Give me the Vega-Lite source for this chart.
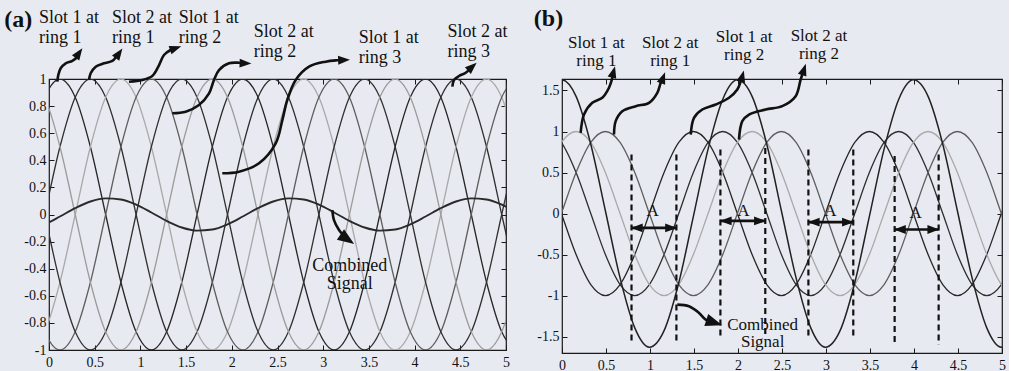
{
"$schema": "https://vega.github.io/schema/vega-lite/v6.json",
"background": "#e8eaf1",
"padding": {"left": 3, "top": 6, "right": 2, "bottom": 0},
"bounds": "flush",
"spacing": 56,
"config": {
  "view": {"stroke": "#1a1a1a", "strokeWidth": 1.2},
  "font": "Liberation Serif",
  "axis": {"labelFont": "Liberation Serif", "labelFontSize": 14, "labelColor": "#111111", "tickColor": "#1a1a1a", "tickSize": -5, "domain": false, "grid": false, "labelFlush": false, "labelOverlap": false},
  "axisLeft": {"labelPadding": 8},
  "axisBottom": {"labelPadding": 10}
},
"datasets": {
  "pa": [
    {"x":-0.213,"a1":0.5,"a2":-0.5,"a3":-1,"a4":-0.5,"a5":0.5,"a6":1,"ac":-0.111},
    {"x":-0.047,"a1":0.866,"a2":0,"a3":-0.866,"a4":-0.866,"a5":0,"a6":0.866,"ac":-0.073},
    {"x":0.12,"a1":1,"a2":0.5,"a3":-0.5,"a4":-1,"a5":-0.5,"a6":0.5,"ac":-0.015},
    {"x":0.287,"a1":0.866,"a2":0.866,"a3":0,"a4":-0.866,"a5":-0.866,"a6":0,"ac":0.047},
    {"x":0.453,"a1":0.5,"a2":1,"a3":0.5,"a4":-0.5,"a5":-1,"a6":-0.5,"ac":0.096},
    {"x":0.62,"a1":0,"a2":0.866,"a3":0.866,"a4":0,"a5":-0.866,"a6":-0.866,"ac":0.119},
    {"x":0.787,"a1":-0.5,"a2":0.5,"a3":1,"a4":0.5,"a5":-0.5,"a6":-1,"ac":0.111},
    {"x":0.953,"a1":-0.866,"a2":0,"a3":0.866,"a4":0.866,"a5":0,"a6":-0.866,"ac":0.073},
    {"x":1.12,"a1":-1,"a2":-0.5,"a3":0.5,"a4":1,"a5":0.5,"a6":-0.5,"ac":0.015},
    {"x":1.287,"a1":-0.866,"a2":-0.866,"a3":0,"a4":0.866,"a5":0.866,"a6":0,"ac":-0.047},
    {"x":1.453,"a1":-0.5,"a2":-1,"a3":-0.5,"a4":0.5,"a5":1,"a6":0.5,"ac":-0.096},
    {"x":1.62,"a1":0,"a2":-0.866,"a3":-0.866,"a4":0,"a5":0.866,"a6":0.866,"ac":-0.119},
    {"x":1.787,"a1":0.5,"a2":-0.5,"a3":-1,"a4":-0.5,"a5":0.5,"a6":1,"ac":-0.111},
    {"x":1.953,"a1":0.866,"a2":0,"a3":-0.866,"a4":-0.866,"a5":0,"a6":0.866,"ac":-0.073},
    {"x":2.12,"a1":1,"a2":0.5,"a3":-0.5,"a4":-1,"a5":-0.5,"a6":0.5,"ac":-0.015},
    {"x":2.287,"a1":0.866,"a2":0.866,"a3":0,"a4":-0.866,"a5":-0.866,"a6":0,"ac":0.047},
    {"x":2.453,"a1":0.5,"a2":1,"a3":0.5,"a4":-0.5,"a5":-1,"a6":-0.5,"ac":0.096},
    {"x":2.62,"a1":0,"a2":0.866,"a3":0.866,"a4":0,"a5":-0.866,"a6":-0.866,"ac":0.119},
    {"x":2.787,"a1":-0.5,"a2":0.5,"a3":1,"a4":0.5,"a5":-0.5,"a6":-1,"ac":0.111},
    {"x":2.953,"a1":-0.866,"a2":0,"a3":0.866,"a4":0.866,"a5":0,"a6":-0.866,"ac":0.073},
    {"x":3.12,"a1":-1,"a2":-0.5,"a3":0.5,"a4":1,"a5":0.5,"a6":-0.5,"ac":0.015},
    {"x":3.287,"a1":-0.866,"a2":-0.866,"a3":0,"a4":0.866,"a5":0.866,"a6":0,"ac":-0.047},
    {"x":3.453,"a1":-0.5,"a2":-1,"a3":-0.5,"a4":0.5,"a5":1,"a6":0.5,"ac":-0.096},
    {"x":3.62,"a1":0,"a2":-0.866,"a3":-0.866,"a4":0,"a5":0.866,"a6":0.866,"ac":-0.119},
    {"x":3.787,"a1":0.5,"a2":-0.5,"a3":-1,"a4":-0.5,"a5":0.5,"a6":1,"ac":-0.111},
    {"x":3.953,"a1":0.866,"a2":0,"a3":-0.866,"a4":-0.866,"a5":0,"a6":0.866,"ac":-0.073},
    {"x":4.12,"a1":1,"a2":0.5,"a3":-0.5,"a4":-1,"a5":-0.5,"a6":0.5,"ac":-0.015},
    {"x":4.287,"a1":0.866,"a2":0.866,"a3":0,"a4":-0.866,"a5":-0.866,"a6":0,"ac":0.047},
    {"x":4.453,"a1":0.5,"a2":1,"a3":0.5,"a4":-0.5,"a5":-1,"a6":-0.5,"ac":0.096},
    {"x":4.62,"a1":0,"a2":0.866,"a3":0.866,"a4":0,"a5":-0.866,"a6":-0.866,"ac":0.119},
    {"x":4.787,"a1":-0.5,"a2":0.5,"a3":1,"a4":0.5,"a5":-0.5,"a6":-1,"ac":0.111},
    {"x":4.953,"a1":-0.866,"a2":0,"a3":0.866,"a4":0.866,"a5":0,"a6":-0.866,"ac":0.073},
    {"x":5.12,"a1":-1,"a2":-0.5,"a3":0.5,"a4":1,"a5":0.5,"a6":-0.5,"ac":0.015}
  ],
  "pb": [
    {"x":-0.173,"b1":0.5,"b2":1,"b3":0.5,"b4":-0.5,"bc":1.394},
    {"x":-0.007,"b1":0,"b2":0.866,"b3":0.866,"b4":0,"bc":1.63},
    {"x":0.16,"b1":-0.5,"b2":0.5,"b3":1,"b4":0.5,"bc":1.428},
    {"x":0.327,"b1":-0.866,"b2":0,"b3":0.866,"b4":0.866,"bc":0.844},
    {"x":0.493,"b1":-1,"b2":-0.5,"b3":0.5,"b4":1,"bc":0.034},
    {"x":0.66,"b1":-0.866,"b2":-0.866,"b3":0,"b4":0.866,"bc":-0.785},
    {"x":0.827,"b1":-0.5,"b2":-1,"b3":-0.5,"b4":0.5,"bc":-1.394},
    {"x":0.993,"b1":0,"b2":-0.866,"b3":-0.866,"b4":0,"bc":-1.63},
    {"x":1.16,"b1":0.5,"b2":-0.5,"b3":-1,"b4":-0.5,"bc":-1.428},
    {"x":1.327,"b1":0.866,"b2":0,"b3":-0.866,"b4":-0.866,"bc":-0.844},
    {"x":1.493,"b1":1,"b2":0.5,"b3":-0.5,"b4":-1,"bc":-0.034},
    {"x":1.66,"b1":0.866,"b2":0.866,"b3":0,"b4":-0.866,"bc":0.785},
    {"x":1.827,"b1":0.5,"b2":1,"b3":0.5,"b4":-0.5,"bc":1.394},
    {"x":1.993,"b1":0,"b2":0.866,"b3":0.866,"b4":0,"bc":1.63},
    {"x":2.16,"b1":-0.5,"b2":0.5,"b3":1,"b4":0.5,"bc":1.428},
    {"x":2.327,"b1":-0.866,"b2":0,"b3":0.866,"b4":0.866,"bc":0.844},
    {"x":2.493,"b1":-1,"b2":-0.5,"b3":0.5,"b4":1,"bc":0.034},
    {"x":2.66,"b1":-0.866,"b2":-0.866,"b3":0,"b4":0.866,"bc":-0.785},
    {"x":2.827,"b1":-0.5,"b2":-1,"b3":-0.5,"b4":0.5,"bc":-1.394},
    {"x":2.993,"b1":0,"b2":-0.866,"b3":-0.866,"b4":0,"bc":-1.63},
    {"x":3.16,"b1":0.5,"b2":-0.5,"b3":-1,"b4":-0.5,"bc":-1.428},
    {"x":3.327,"b1":0.866,"b2":0,"b3":-0.866,"b4":-0.866,"bc":-0.844},
    {"x":3.493,"b1":1,"b2":0.5,"b3":-0.5,"b4":-1,"bc":-0.034},
    {"x":3.66,"b1":0.866,"b2":0.866,"b3":0,"b4":-0.866,"bc":0.785},
    {"x":3.827,"b1":0.5,"b2":1,"b3":0.5,"b4":-0.5,"bc":1.394},
    {"x":3.993,"b1":0,"b2":0.866,"b3":0.866,"b4":0,"bc":1.63},
    {"x":4.16,"b1":-0.5,"b2":0.5,"b3":1,"b4":0.5,"bc":1.428},
    {"x":4.327,"b1":-0.866,"b2":0,"b3":0.866,"b4":0.866,"bc":0.844},
    {"x":4.493,"b1":-1,"b2":-0.5,"b3":0.5,"b4":1,"bc":0.034},
    {"x":4.66,"b1":-0.866,"b2":-0.866,"b3":0,"b4":0.866,"bc":-0.785},
    {"x":4.827,"b1":-0.5,"b2":-1,"b3":-0.5,"b4":0.5,"bc":-1.394},
    {"x":4.993,"b1":0,"b2":-0.866,"b3":-0.866,"b4":0,"bc":-1.63},
    {"x":5.16,"b1":0.5,"b2":-0.5,"b3":-1,"b4":-0.5,"bc":-1.428}
  ],
  "arrA": [
    {"g":"1","i":0,"x":0.091,"y":0.98},{"g":"1","i":1,"x":0.102,"y":1.03},{"g":"1","i":2,"x":0.128,"y":1.079},{"g":"1","i":3,"x":0.183,"y":1.116},{"g":"1","i":4,"x":0.255,"y":1.133},{"g":"1","i":5,"x":0.31,"y":1.165},{"g":"1","i":6,"x":0.328,"y":1.192},
    {"g":"2","i":0,"x":0.438,"y":0.993},{"g":"2","i":1,"x":0.456,"y":1.042},{"g":"2","i":2,"x":0.511,"y":1.091},{"g":"2","i":3,"x":0.602,"y":1.116},{"g":"2","i":4,"x":0.693,"y":1.133},{"g":"2","i":5,"x":0.736,"y":1.165},{"g":"2","i":6,"x":0.766,"y":1.19},
    {"g":"3","i":0,"x":0.875,"y":0.98},{"g":"3","i":1,"x":1.021,"y":0.993},{"g":"3","i":2,"x":1.13,"y":1.022},{"g":"3","i":3,"x":1.196,"y":1.091},{"g":"3","i":4,"x":1.258,"y":1.177},{"g":"3","i":5,"x":1.331,"y":1.214},{"g":"3","i":6,"x":1.386,"y":1.227},
    {"g":"4","i":0,"x":1.349,"y":0.747},{"g":"4","i":1,"x":1.496,"y":0.759},{"g":"4","i":2,"x":1.641,"y":0.808},{"g":"4","i":3,"x":1.751,"y":0.894},{"g":"4","i":4,"x":1.805,"y":0.993},{"g":"4","i":5,"x":1.86,"y":1.066},{"g":"4","i":6,"x":1.969,"y":1.116},{"g":"4","i":7,"x":2.08,"y":1.12},{"g":"4","i":8,"x":2.15,"y":1.116},
    {"g":"5","i":0,"x":1.896,"y":0.304},{"g":"5","i":1,"x":2.079,"y":0.316},{"g":"5","i":2,"x":2.298,"y":0.378},{"g":"5","i":3,"x":2.48,"y":0.525},{"g":"5","i":4,"x":2.553,"y":0.697},{"g":"5","i":5,"x":2.607,"y":0.845},{"g":"5","i":6,"x":2.699,"y":0.993},{"g":"5","i":7,"x":2.845,"y":1.091},{"g":"5","i":8,"x":3.027,"y":1.128},{"g":"5","i":9,"x":3.15,"y":1.138},{"g":"5","i":10,"x":3.228,"y":1.14},
    {"g":"6","i":0,"x":4.413,"y":0.943},{"g":"6","i":1,"x":4.431,"y":0.993},{"g":"6","i":2,"x":4.486,"y":1.022},{"g":"6","i":3,"x":4.559,"y":1.046},{"g":"6","i":4,"x":4.631,"y":1.091},
    {"g":"7","i":0,"x":3.1,"y":0.033},{"g":"7","i":1,"x":3.118,"y":-0.041},{"g":"7","i":2,"x":3.173,"y":-0.114},{"g":"7","i":3,"x":3.23,"y":-0.16},{"g":"7","i":4,"x":3.264,"y":-0.183}
  ],
  "headA": [
    {"x":0.328,"y":1.192,"ang":35},{"x":0.766,"y":1.19,"ang":35},{"x":1.386,"y":1.227,"ang":71},{"x":2.15,"y":1.116,"ang":92},{"x":3.228,"y":1.14,"ang":88},{"x":4.631,"y":1.091,"ang":48}
  ],
  "arrB": [
    {"g":"1","i":0,"x":0.212,"y":0.984},{"g":"1","i":1,"x":0.25,"y":1.207},{"g":"1","i":2,"x":0.344,"y":1.35},{"g":"1","i":3,"x":0.458,"y":1.411},{"g":"1","i":4,"x":0.534,"y":1.533},{"g":"1","i":5,"x":0.572,"y":1.655},{"g":"1","i":6,"x":0.585,"y":1.726},
    {"g":"2","i":0,"x":0.591,"y":0.963},{"g":"2","i":1,"x":0.61,"y":1.126},{"g":"2","i":2,"x":0.685,"y":1.248},{"g":"2","i":3,"x":0.838,"y":1.309},{"g":"2","i":4,"x":0.989,"y":1.35},{"g":"2","i":5,"x":1.083,"y":1.472},{"g":"2","i":6,"x":1.122,"y":1.594},{"g":"2","i":7,"x":1.148,"y":1.655},
    {"g":"3","i":0,"x":1.463,"y":0.963},{"g":"3","i":1,"x":1.5,"y":1.167},{"g":"3","i":2,"x":1.594,"y":1.268},{"g":"3","i":3,"x":1.747,"y":1.329},{"g":"3","i":4,"x":1.898,"y":1.411},{"g":"3","i":5,"x":1.992,"y":1.512},{"g":"3","i":6,"x":2.031,"y":1.613},{"g":"3","i":7,"x":2.049,"y":1.674},
    {"g":"4","i":0,"x":2.011,"y":0.902},{"g":"4","i":1,"x":2.049,"y":1.126},{"g":"4","i":2,"x":2.125,"y":1.207},{"g":"4","i":3,"x":2.315,"y":1.268},{"g":"4","i":4,"x":2.503,"y":1.309},{"g":"4","i":5,"x":2.655,"y":1.43},{"g":"4","i":6,"x":2.712,"y":1.634},{"g":"4","i":7,"x":2.75,"y":1.756},
    {"g":"5","i":0,"x":1.31,"y":-1.11},{"g":"5","i":1,"x":1.443,"y":-1.13},{"g":"5","i":2,"x":1.557,"y":-1.211},{"g":"5","i":3,"x":1.633,"y":-1.293},{"g":"5","i":4,"x":1.73,"y":-1.33}
  ],
  "headB": [
    {"x":0.585,"y":1.726,"ang":15},{"x":1.148,"y":1.655,"ang":20},{"x":2.049,"y":1.674,"ang":15},{"x":2.75,"y":1.756,"ang":18},
    {"x":0.85,"y":-0.175,"ang":270},{"x":1.24,"y":-0.175,"ang":90},
    {"x":1.86,"y":-0.09,"ang":270},{"x":2.25,"y":-0.09,"ang":90},
    {"x":2.86,"y":-0.105,"ang":270},{"x":3.25,"y":-0.105,"ang":90},
    {"x":3.84,"y":-0.195,"ang":270},{"x":4.22,"y":-0.195,"ang":90}
  ]
},
"hconcat": [
  {
    "width": 457, "height": 271,
    "resolve": {"axis": {"x": "independent", "y": "independent"}},
    "layer": [
      {
        "data": {"name": "pa"},
        "transform": [{"fold": ["a1","a2","a3","a4","a5","a6"], "as": ["k","v"]}],
        "mark": {"type": "line", "interpolate": "monotone", "clip": true, "strokeWidth": 1.3},
        "encoding": {
          "x": {"field": "x", "type": "quantitative", "scale": {"domain": [0,5], "nice": false, "zero": false}, "axis": {"orient": "bottom", "values": [0,0.5,1,1.5,2,2.5,3,3.5,4,4.5,5], "title": null, "labelExpr": "replace(format(datum.value, '~g'), '−', '-')"}},
          "y": {"field": "v", "type": "quantitative", "scale": {"domain": [-1,1], "nice": false, "zero": false}, "axis": {"orient": "left", "values": [-1,-0.8,-0.6,-0.4,-0.2,0,0.2,0.4,0.6,0.8,1], "title": null, "labelExpr": "replace(format(datum.value, '~g'), '−', '-')"}},
          "color": {"field": "k", "type": "nominal", "scale": {"domain": ["a1","a2","a3","a4","a5","a6"], "range": ["#262626","#2e2e2e","#a9a9a9","#5e5e5e","#303030","#9b9b9b"]}, "legend": null}
        }
      },
      {
        "data": {"name": "pa"},
        "mark": {"type": "line", "interpolate": "monotone", "clip": true, "strokeWidth": 1.9, "color": "#2a2a2a"},
        "encoding": {
          "x": {"field": "x", "type": "quantitative", "scale": {"domain": [0,5], "nice": false, "zero": false}, "axis": {"orient": "top", "values": [0,0.5,1,1.5,2,2.5,3,3.5,4,4.5,5], "title": null, "labels": false}},
          "y": {"field": "ac", "type": "quantitative", "scale": {"domain": [-1,1], "nice": false, "zero": false}, "axis": {"orient": "right", "values": [-1,-0.8,-0.6,-0.4,-0.2,0,0.2,0.4,0.6,0.8,1], "title": null, "labels": false}}
        }
      },
      {
        "data": {"name": "arrA"},
        "mark": {"type": "line", "interpolate": "catmull-rom", "strokeWidth": 2.6, "color": "#111111"},
        "encoding": {
          "x": {"field": "x", "type": "quantitative", "scale": {"domain": [0,5], "nice": false, "zero": false}, "axis": null},
          "y": {"field": "y", "type": "quantitative", "scale": {"domain": [-1,1], "nice": false, "zero": false}, "axis": null},
          "detail": {"field": "g", "type": "nominal"},
          "order": {"field": "i", "type": "quantitative"}
        }
      },
      {
        "data": {"name": "headA"},
        "mark": {"type": "point", "filled": true, "shape": "M0,-1L0.75,1L-0.75,1Z", "size": 140, "color": "#111111", "opacity": 1},
        "encoding": {
          "x": {"field": "x", "type": "quantitative", "scale": {"domain": [0,5], "nice": false, "zero": false}, "axis": null},
          "y": {"field": "y", "type": "quantitative", "scale": {"domain": [-1,1], "nice": false, "zero": false}, "axis": null},
          "angle": {"field": "ang", "type": "quantitative", "scale": null}
        }
      },
      {
        "data": {"values": [{"x": 3.264, "y": -0.183, "ang": 125}]},
        "mark": {"type": "point", "filled": true, "shape": "M0,-1L0.75,1L-0.75,1Z", "size": 280, "color": "#111111", "opacity": 1},
        "encoding": {
          "x": {"field": "x", "type": "quantitative", "scale": {"domain": [0,5], "nice": false, "zero": false}, "axis": null},
          "y": {"field": "y", "type": "quantitative", "scale": {"domain": [-1,1], "nice": false, "zero": false}, "axis": null},
          "angle": {"field": "ang", "type": "quantitative", "scale": null}
        }
      },
      {
        "data": {"values": [
          {"t": "Slot 1 at\nring 1", "x": -0.11, "y": 1.413},
          {"t": "Slot 2 at\nring 1", "x": 0.69, "y": 1.413},
          {"t": "Slot 1 at\nring 2", "x": 1.42, "y": 1.413},
          {"t": "Slot 2 at\nring 2", "x": 2.24, "y": 1.312},
          {"t": "Slot 1 at\nring 3", "x": 3.39, "y": 1.268},
          {"t": "Slot 2 at\nring 3", "x": 4.36, "y": 1.312}
        ]},
        "mark": {"type": "text", "font": "Liberation Serif", "fontSize": 18, "align": "left", "baseline": "alphabetic", "lineBreak": "\n", "lineHeight": 20, "color": "#111111"},
        "encoding": {
          "x": {"field": "x", "type": "quantitative", "scale": {"domain": [0,5], "nice": false, "zero": false}, "axis": null},
          "y": {"field": "y", "type": "quantitative", "scale": {"domain": [-1,1], "nice": false, "zero": false}, "axis": null},
          "text": {"field": "t"}
        }
      },
      {
        "data": {"values": [{"t": "Combined\nSignal", "x": 3.29, "y": -0.42}]},
        "mark": {"type": "text", "font": "Liberation Serif", "fontSize": 18, "align": "center", "baseline": "alphabetic", "lineBreak": "\n", "lineHeight": 18, "color": "#111111"},
        "encoding": {
          "x": {"field": "x", "type": "quantitative", "scale": {"domain": [0,5], "nice": false, "zero": false}, "axis": null},
          "y": {"field": "y", "type": "quantitative", "scale": {"domain": [-1,1], "nice": false, "zero": false}, "axis": null},
          "text": {"field": "t"}
        }
      },
      {
        "data": {"values": [{"t": "(a)", "x": -0.49, "y": 1.386}]},
        "mark": {"type": "text", "font": "Liberation Serif", "fontSize": 24, "fontWeight": "bold", "align": "left", "baseline": "alphabetic", "color": "#111111"},
        "encoding": {
          "x": {"field": "x", "type": "quantitative", "scale": {"domain": [0,5], "nice": false, "zero": false}, "axis": null},
          "y": {"field": "y", "type": "quantitative", "scale": {"domain": [-1,1], "nice": false, "zero": false}, "axis": null},
          "text": {"field": "t"}
        }
      }
    ]
  },
  {
    "width": 440, "height": 274,
    "resolve": {"axis": {"x": "independent", "y": "independent"}},
    "layer": [
      {
        "data": {"name": "pb"},
        "transform": [{"fold": ["b1","b2","b3","b4"], "as": ["k","v"]}],
        "mark": {"type": "line", "interpolate": "monotone", "clip": true, "strokeWidth": 1.3},
        "encoding": {
          "x": {"field": "x", "type": "quantitative", "scale": {"domain": [0,5], "nice": false, "zero": false}, "axis": {"orient": "bottom", "values": [0,0.5,1,1.5,2,2.5,3,3.5,4,4.5,5], "title": null, "labelExpr": "replace(format(datum.value, '~g'), '−', '-')"}},
          "y": {"field": "v", "type": "quantitative", "scale": {"domain": [-1.7,1.64], "nice": false, "zero": false}, "axis": {"orient": "left", "values": [-1.5,-1,-0.5,0,0.5,1,1.5], "title": null, "labelExpr": "replace(format(datum.value, '~g'), '−', '-')"}},
          "color": {"field": "k", "type": "nominal", "scale": {"domain": ["b1","b2","b3","b4"], "range": ["#5c5c5c","#a3a3a3","#3d3d3d","#2e2e2e"]}, "legend": null}
        }
      },
      {
        "data": {"name": "pb"},
        "mark": {"type": "line", "interpolate": "monotone", "clip": true, "strokeWidth": 1.5, "color": "#222222"},
        "encoding": {
          "x": {"field": "x", "type": "quantitative", "scale": {"domain": [0,5], "nice": false, "zero": false}, "axis": {"orient": "top", "values": [0,0.5,1,1.5,2,2.5,3,3.5,4,4.5,5], "title": null, "labels": false}},
          "y": {"field": "bc", "type": "quantitative", "scale": {"domain": [-1.7,1.64], "nice": false, "zero": false}, "axis": {"orient": "right", "values": [-1.5,-1,-0.5,0,0.5,1,1.5], "title": null, "labels": false}}
        }
      },
      {
        "data": {"values": [
          {"x": 0.79, "y": 0.72, "y2": -1.57},
          {"x": 1.30, "y": 0.72, "y2": -1.57},
          {"x": 1.80, "y": 0.78, "y2": -1.5},
          {"x": 2.31, "y": 0.8, "y2": -1.5},
          {"x": 2.80, "y": 0.78, "y2": -1.5},
          {"x": 3.31, "y": 0.78, "y2": -1.5},
          {"x": 3.78, "y": 0.7, "y2": -1.6},
          {"x": 4.28, "y": 0.72, "y2": -1.6}
        ]},
        "mark": {"type": "rule", "strokeDash": [6,4], "strokeWidth": 2.2, "color": "#111111"},
        "encoding": {
          "x": {"field": "x", "type": "quantitative", "scale": {"domain": [0,5], "nice": false, "zero": false}, "axis": null},
          "y": {"field": "y", "type": "quantitative", "scale": {"domain": [-1.7,1.64], "nice": false, "zero": false}, "axis": null},
          "y2": {"field": "y2"}
        }
      },
      {
        "data": {"values": [
          {"x": 0.79, "x2": 1.30, "y": -0.175},
          {"x": 1.80, "x2": 2.31, "y": -0.09},
          {"x": 2.80, "x2": 3.31, "y": -0.105},
          {"x": 3.78, "x2": 4.28, "y": -0.195}
        ]},
        "mark": {"type": "rule", "strokeWidth": 2.6, "color": "#111111"},
        "encoding": {
          "x": {"field": "x", "type": "quantitative", "scale": {"domain": [0,5], "nice": false, "zero": false}, "axis": null},
          "x2": {"field": "x2"},
          "y": {"field": "y", "type": "quantitative", "scale": {"domain": [-1.7,1.64], "nice": false, "zero": false}, "axis": null}
        }
      },
      {
        "data": {"name": "arrB"},
        "mark": {"type": "line", "interpolate": "catmull-rom", "strokeWidth": 2.6, "color": "#111111"},
        "encoding": {
          "x": {"field": "x", "type": "quantitative", "scale": {"domain": [0,5], "nice": false, "zero": false}, "axis": null},
          "y": {"field": "y", "type": "quantitative", "scale": {"domain": [-1.7,1.64], "nice": false, "zero": false}, "axis": null},
          "detail": {"field": "g", "type": "nominal"},
          "order": {"field": "i", "type": "quantitative"}
        }
      },
      {
        "data": {"name": "headB"},
        "mark": {"type": "point", "filled": true, "shape": "M0,-1L0.75,1L-0.75,1Z", "size": 140, "color": "#111111", "opacity": 1},
        "encoding": {
          "x": {"field": "x", "type": "quantitative", "scale": {"domain": [0,5], "nice": false, "zero": false}, "axis": null},
          "y": {"field": "y", "type": "quantitative", "scale": {"domain": [-1.7,1.64], "nice": false, "zero": false}, "axis": null},
          "angle": {"field": "ang", "type": "quantitative", "scale": null}
        }
      },
      {
        "data": {"values": [{"x": 1.73, "y": -1.33, "ang": 108}]},
        "mark": {"type": "point", "filled": true, "shape": "M0,-1L0.75,1L-0.75,1Z", "size": 280, "color": "#111111", "opacity": 1},
        "encoding": {
          "x": {"field": "x", "type": "quantitative", "scale": {"domain": [0,5], "nice": false, "zero": false}, "axis": null},
          "y": {"field": "y", "type": "quantitative", "scale": {"domain": [-1.7,1.64], "nice": false, "zero": false}, "axis": null},
          "angle": {"field": "ang", "type": "quantitative", "scale": null}
        }
      },
      {
        "data": {"values": [
          {"t": "A", "x": 1.03, "y": -0.03},
          {"t": "A", "x": 2.06, "y": -0.03},
          {"t": "A", "x": 3.05, "y": -0.03},
          {"t": "A", "x": 4.02, "y": -0.05}
        ]},
        "mark": {"type": "text", "font": "Liberation Serif", "fontSize": 17, "align": "center", "baseline": "alphabetic", "color": "#111111"},
        "encoding": {
          "x": {"field": "x", "type": "quantitative", "scale": {"domain": [0,5], "nice": false, "zero": false}, "axis": null},
          "y": {"field": "y", "type": "quantitative", "scale": {"domain": [-1.7,1.64], "nice": false, "zero": false}, "axis": null},
          "text": {"field": "t"}
        }
      },
      {
        "data": {"values": [
          {"t": "Slot 1 at\nring 1", "x": 0.39, "y": 2.015},
          {"t": "Slot 2 at\nring 1", "x": 1.23, "y": 2.015},
          {"t": "Slot 1 at\nring 2", "x": 2.07, "y": 2.095},
          {"t": "Slot 2 at\nring 2", "x": 2.92, "y": 2.105}
        ]},
        "mark": {"type": "text", "font": "Liberation Serif", "fontSize": 17, "align": "center", "baseline": "alphabetic", "lineBreak": "\n", "lineHeight": 18, "color": "#111111"},
        "encoding": {
          "x": {"field": "x", "type": "quantitative", "scale": {"domain": [0,5], "nice": false, "zero": false}, "axis": null},
          "y": {"field": "y", "type": "quantitative", "scale": {"domain": [-1.7,1.64], "nice": false, "zero": false}, "axis": null},
          "text": {"field": "t"}
        }
      },
      {
        "data": {"values": [{"t": "Combined\nSignal", "x": 2.28, "y": -1.425}]},
        "mark": {"type": "text", "font": "Liberation Serif", "fontSize": 17, "align": "center", "baseline": "alphabetic", "lineBreak": "\n", "lineHeight": 17, "color": "#111111"},
        "encoding": {
          "x": {"field": "x", "type": "quantitative", "scale": {"domain": [0,5], "nice": false, "zero": false}, "axis": null},
          "y": {"field": "y", "type": "quantitative", "scale": {"domain": [-1.7,1.64], "nice": false, "zero": false}, "axis": null},
          "text": {"field": "t"}
        }
      },
      {
        "data": {"values": [{"t": "(b)", "x": -0.32, "y": 2.28}]},
        "mark": {"type": "text", "font": "Liberation Serif", "fontSize": 24, "fontWeight": "bold", "align": "left", "baseline": "alphabetic", "color": "#111111"},
        "encoding": {
          "x": {"field": "x", "type": "quantitative", "scale": {"domain": [0,5], "nice": false, "zero": false}, "axis": null},
          "y": {"field": "y", "type": "quantitative", "scale": {"domain": [-1.7,1.64], "nice": false, "zero": false}, "axis": null},
          "text": {"field": "t"}
        }
      }
    ]
  }
]
}
